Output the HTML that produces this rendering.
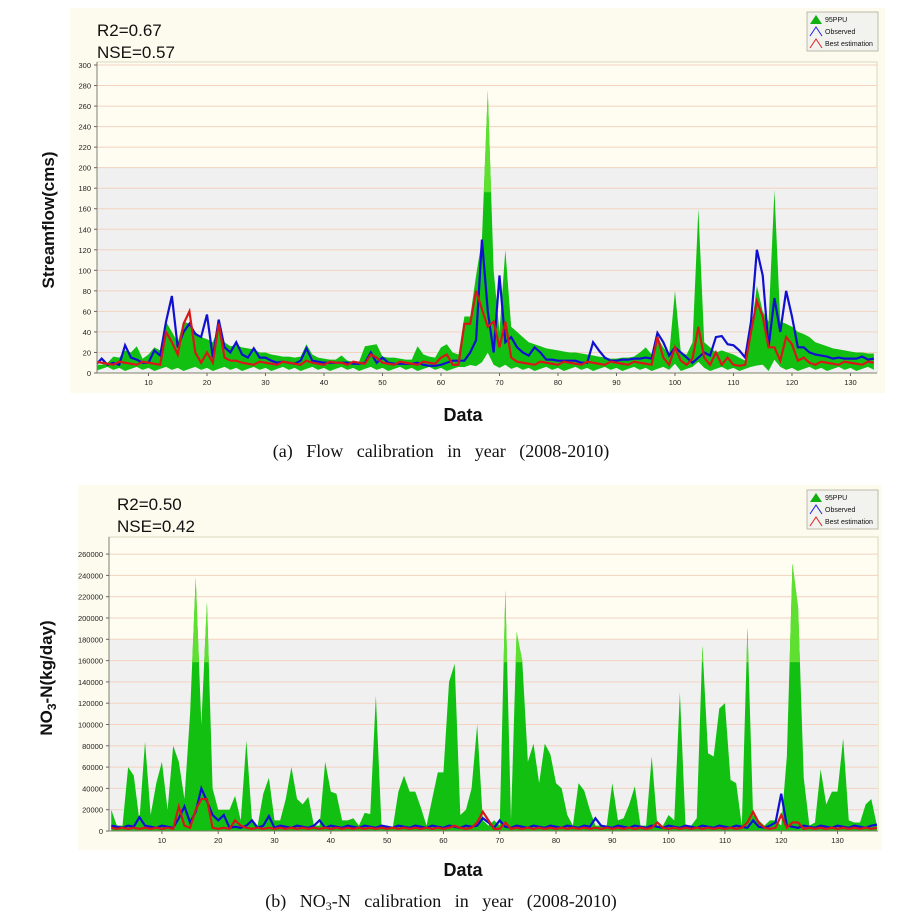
<!DOCTYPE html>
<html><head><meta charset="utf-8"><style>
body{margin:0;background:#fff;width:899px;height:914px;overflow:hidden;font-family:"Liberation Sans",sans-serif}
</style></head><body>
<svg id="s" width="899" height="914" xmlns="http://www.w3.org/2000/svg" font-family="Liberation Sans, sans-serif"></svg>
<script>
const S=document.getElementById('s');let h='';
function chart(o){
 const {px0,px1,py0,pyTop,x0,xs,ymax,ys,U,L,O,B,panel,band,yStep,yFmt,xMax}=o;
 const X=i=>px0+(i-x0)*xs, Y=v=>py0-v*ys;
 h+=`<rect x="${panel[0]}" y="${panel[1]}" width="${panel[2]-panel[0]}" height="${panel[3]-panel[1]}" fill="#fdfbee"/>`;
 h+=`<rect x="${px0}" y="${pyTop}" width="${px1-px0}" height="${py0-pyTop}" fill="#fffdf2" stroke="#d8d8c0"/>`;
 h+=`<rect x="${px0}" y="${Y(band)}" width="${px1-px0}" height="${py0-Y(band)}" fill="#f0f0f0"/>`;
 for(let v=yStep;v<=ymax;v+=yStep){h+=`<line x1="${px0}" x2="${px1}" y1="${Y(v)}" y2="${Y(v)}" stroke="#f3d2c0" stroke-width="1"/>`}
 let p='';for(let i=0;i<U.length;i++)p+=X(i+1)+','+Y(U[i])+' ';
 for(let i=L.length-1;i>=0;i--)p+=X(i+1)+','+Y(L[i])+' ';
 h+=`<defs><clipPath id="c${px0}"><rect x="${px0}" y="${pyTop}" width="${px1-px0}" height="${py0-pyTop}"/></clipPath></defs><g clip-path="url(#c${px0})">`;
 h+=`<polygon points="${p}" fill="#12c012"/>`;
 h+=`<polygon points="${p}" fill="#5fe030" clip-path="url(#u${px0})"/>`;
 h+=`<defs><clipPath id="u${px0}"><rect x="${px0}" y="${pyTop}" width="${px1-px0}" height="${Y(band*0.88)-pyTop}"/></clipPath></defs>`;
 const line=(a,c)=>{let q='';a.forEach((v,i)=>q+=X(i+1)+','+Y(v)+' ');h+=`<polyline points="${q}" fill="none" stroke="${c}" stroke-width="2.2"/>`};
 line(O,'#1010d0');line(B,'#d81818');h+='</g>';
 h+=`<line x1="${px0}" x2="${px0}" y1="${pyTop}" y2="${py0}" stroke="#808070"/><line x1="${px0}" x2="${px1}" y1="${py0}" y2="${py0}" stroke="#808070"/>`;
 for(let v=0;v<=ymax;v+=yStep){h+=`<text x="${px0-6}" y="${Y(v)+3}" font-size="7.5" text-anchor="end" fill="#222">${yFmt(v)}</text><line x1="${px0-3}" x2="${px0}" y1="${Y(v)}" y2="${Y(v)}" stroke="#666"/>`}
 for(let v=10;v<=xMax;v+=10){h+=`<text x="${X(v)}" y="${py0+12}" font-size="7.5" text-anchor="middle" fill="#222">${v}</text><line x1="${X(v)}" x2="${X(v)}" y1="${py0}" y2="${py0+3}" stroke="#666"/>`}
}
function arr(n,def,m){const a=[];for(let i=1;i<=n;i++)a.push(m[i]!==undefined?m[i]:(typeof def=='function'?def(i):def));return a}
const U1=[8,8,10,16,15,22,20,26,14,18,25,22,50,40,30,50,48,40,35,33,30,45,30,26,27,25,24,23,20,20,18,17,16,16,15,16,28,18,15,14,13,13,17,12,11,11,26,27,28,16,15,15,14,13,13,26,18,16,15,25,28,20,18,55,55,95,130,275,100,40,120,45,40,35,30,28,26,24,23,22,21,20,20,19,18,17,16,15,14,14,15,15,16,20,25,18,35,25,18,80,20,18,30,160,30,25,20,22,20,18,15,12,40,85,60,50,178,50,48,45,40,38,35,30,28,26,24,23,22,21,20,20,19,19];
const L1=U1.map((v,i)=>Math.max(2,4+((i*7)%5)-2+(v>50?v*0.05:0)));
const O1=[8,14,8,10,8,27,15,13,10,10,22,17,50,75,25,40,48,38,35,57,15,52,25,20,30,18,15,24,15,15,12,10,11,10,9,12,24,12,11,10,10,10,10,10,9,9,10,20,10,15,10,9,9,9,9,10,8,7,7,8,10,12,12,12,20,32,130,60,20,95,30,35,25,20,17,25,20,13,13,12,12,12,12,10,10,30,22,15,12,12,13,13,14,14,15,14,39,30,17,25,20,15,10,15,20,17,35,36,28,27,22,15,50,120,95,25,73,40,80,55,25,25,20,18,17,16,14,15,14,14,14,16,13,14];
const B1=arr(134,i=>8+(i*3)%4,{13:40,14:30,15:18,16:48,17:60,18:20,19:10,20:20,21:10,22:48,23:15,24:12,25:12,37:12,43:10,48:18,49:15,60:15,61:18,62:8,63:8,64:48,65:48,66:80,67:62,68:45,69:50,70:25,71:50,72:15,97:35,98:15,99:8,100:25,101:12,102:8,103:14,104:45,105:15,106:8,107:20,108:8,109:15,110:8,111:7,112:8,113:40,114:70,115:55,116:25,117:25,118:12,119:35,120:28,121:12,122:15,123:10});
chart({px0:97,px1:877,py0:373,pyTop:62,x0:1.2,xs:5.85,ymax:300,ys:308/300,U:U1,L:L1,O:O1,B:B1,panel:[70,8,885,393],band:200,yStep:20,yFmt:v=>v,xMax:134});
const U2=[20,5,5,60,52,10,84,15,45,65,20,80,65,30,110,238,100,215,40,20,20,20,33,10,85,10,5,35,50,10,10,30,60,30,25,32,5,5,65,37,35,10,10,12,5,17,16,127,5,5,3,37,52,37,37,22,5,30,55,55,140,157,15,20,40,100,10,5,10,5,226,10,187,160,65,82,45,82,72,45,40,15,5,45,38,20,5,5,5,45,10,12,25,42,5,5,70,5,5,15,10,130,5,5,12,174,73,70,115,120,48,45,5,191,15,10,5,10,10,5,70,251,210,50,5,8,58,25,37,37,87,10,8,8,25,30,5];
const L2=U2.map(()=>0.5);
const O2=arr(137,i=>3+(i*5)%3,{6:13,13:12,14:23,15:8,16:18,17:40,18:28,19:15,20:10,21:15,22:3,26:10,29:14,38:10,66:5,67:12,68:8,70:10,87:12,115:10,118:5,119:8,120:35,121:5,137:6});
const B2=arr(137,i=>2+(i*3)%2,{13:23,14:5,16:20,17:30,18:30,19:3,23:10,24:5,62:5,66:8,67:18,68:10,69:2,71:8,98:8,114:8,115:18,116:8,118:2,120:15,122:8,123:8});
chart({px0:109,px1:878,py0:831,pyTop:537,x0:0.6,xs:5.63,ymax:260000,ys:21.3/20000,U:U2.map(v=>v*1000),L:L2.map(v=>v*1000),O:O2.map(v=>v*1000),B:B2.map(v=>v*1000),panel:[78,485,882,850],band:180000,yStep:20000,yFmt:v=>v,xMax:137});
function legend(x,y){h+=`<rect x="${x}" y="${y}" width="71" height="39" fill="#f2f2ee" stroke="#bbbbaa"/>
<polygon points="${x+3},${y+12} ${x+9},${y+3} ${x+15},${y+12}" fill="#10b010"/>
<polyline points="${x+3},${y+24} ${x+9},${y+15} ${x+15},${y+24}" fill="none" stroke="#2020e0"/>
<polyline points="${x+3},${y+36} ${x+9},${y+27} ${x+15},${y+36}" fill="none" stroke="#e02020"/>
<text x="${x+18}" y="${y+10}" font-size="7" fill="#111">95PPU</text>
<text x="${x+18}" y="${y+22}" font-size="7" fill="#111">Observed</text>
<text x="${x+18}" y="${y+34}" font-size="7" fill="#111">Best estimation</text>`}
legend(807,12);legend(807,490);
h+=`<text x="97" y="36" font-size="17" fill="#111">R2=0.67</text><text x="97" y="58" font-size="17" fill="#111">NSE=0.57</text>
<text x="117" y="510" font-size="17" fill="#111">R2=0.50</text><text x="117" y="532" font-size="17" fill="#111">NSE=0.42</text>
<text transform="translate(54,220) rotate(-90)" font-size="17" font-weight="bold" text-anchor="middle" fill="#111">Streamflow(cms)</text>
<text transform="translate(52,678) rotate(-90)" font-size="17" font-weight="bold" text-anchor="middle" fill="#111">NO<tspan font-size="12" dy="4">3</tspan><tspan dy="-4">-N(kg/day)</tspan></text>
<text x="463" y="421" font-size="18" font-weight="bold" text-anchor="middle" fill="#111">Data</text>
<text x="463" y="876" font-size="18" font-weight="bold" text-anchor="middle" fill="#111">Data</text>
<text x="441" y="457" font-size="18" font-family="Liberation Serif, serif" text-anchor="middle" fill="#111" word-spacing="9">(a) Flow calibration in year (2008-2010)</text>
<text x="441" y="907" font-size="18" font-family="Liberation Serif, serif" text-anchor="middle" fill="#111" word-spacing="9">(b) NO<tspan font-size="12" dy="3">3</tspan><tspan dy="-3">-N calibration in year (2008-2010)</tspan></text>`;
S.innerHTML=h;
</script>
</body></html>
